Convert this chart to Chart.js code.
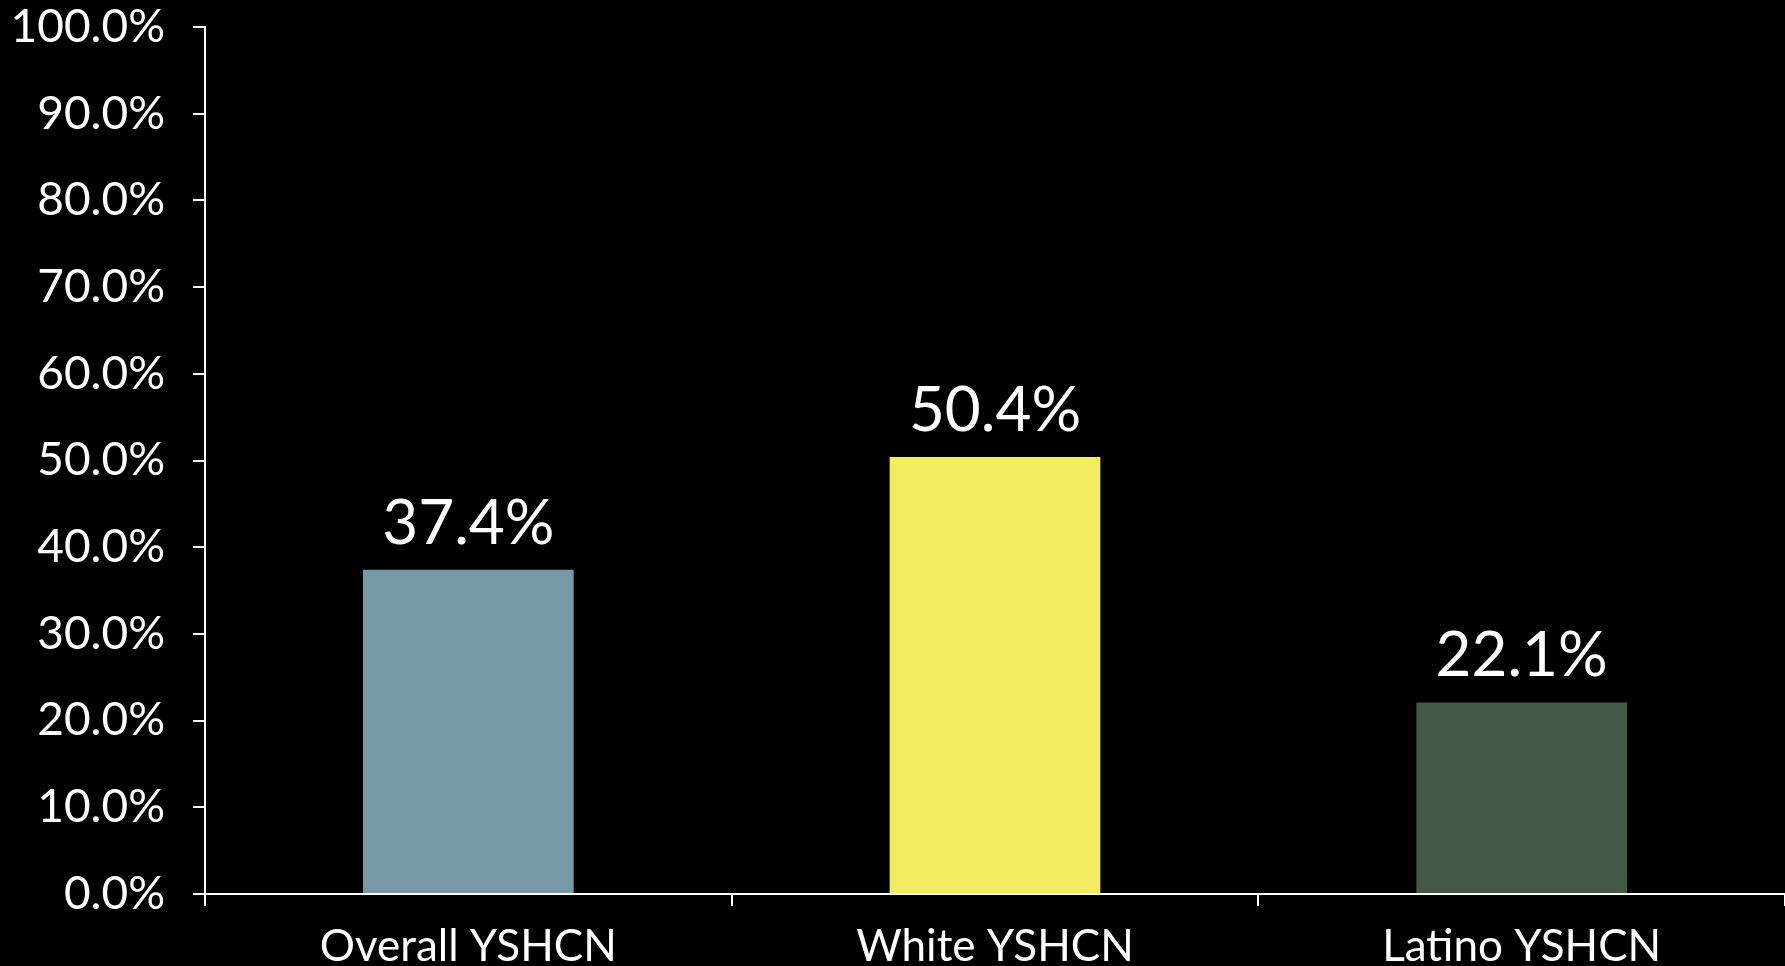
<!DOCTYPE html>
<html>
<head>
<meta charset="utf-8">
<script src="https://cdn.jsdelivr.net/npm/chart.js@4"></script>
<style>
  html, body { margin: 0; padding: 0; background: #000; }
  #wrap { width: 1785px; height: 966px; }
</style>
</head>
<body>
<div id="wrap"><canvas id="grafico"></canvas></div>
<script>
// dati
var categorie = ['Overall YSHCN', 'White YSHCN', 'Latino YSHCN'];
var valori = [37.4, 50.4, 22.1];
var colori = ['#7799a5', '#f2ec5e', '#445a47'];

var font = 'Lato, "DejaVu Sans", sans-serif';

// etichette sopra le barre
var etichette = {
  id: 'etichette',
  afterDatasetsDraw: function(chart) {
    var ctx = chart.ctx;
    var meta = chart.getDatasetMeta(0);
    ctx.save();
    ctx.fillStyle = '#ffffff';
    ctx.font = '62px ' + font;
    ctx.textAlign = 'center';
    ctx.textBaseline = 'alphabetic';
    meta.data.forEach(function(bar, i) {
      ctx.fillText(valori[i].toFixed(1) + '%', bar.x, bar.y - 26);
    });
    ctx.restore();
  }
};

new Chart(document.getElementById('grafico'), {
  type: 'bar',
  data: {
    labels: categorie,
    datasets: [{
      data: valori,
      backgroundColor: colori,
      barPercentage: 0.4,
      categoryPercentage: 1
    }]
  },
  options: {
    responsive: true,
    maintainAspectRatio: false,
    animation: false,
    layout: { padding: { top: 27, right: 0, left: 0, bottom: 0 } },
    plugins: { legend: { display: false }, tooltip: { enabled: false } },
    scales: {
      x: {
        grid: { drawOnChartArea: false, color: '#ffffff', tickLength: 12, lineWidth: 2 },
        border: { color: '#ffffff', width: 2 },
        ticks: { color: '#ffffff', font: { family: font, size: 44 }, padding: 14, maxRotation: 0 },
        afterFit: function(scale) {
          scale.height = 72;
          scale.paddingLeft = 0;
          scale.paddingRight = 0;
        }
      },
      y: {
        min: 0,
        max: 100,
        grid: { drawOnChartArea: false, color: '#ffffff', tickLength: 12, lineWidth: 2 },
        border: { color: '#ffffff', width: 2 },
        ticks: {
          stepSize: 10,
          color: '#ffffff',
          padding: 28,
          font: { family: font, size: 46 },
          callback: function(v) { return v.toFixed(1) + '%'; }
        },
        afterFit: function(scale) {
          scale.width = 205;
          scale.paddingTop = 0;
          scale.paddingBottom = 0;
        }
      }
    }
  },
  plugins: [etichette]
});
</script>
</body>
</html>
